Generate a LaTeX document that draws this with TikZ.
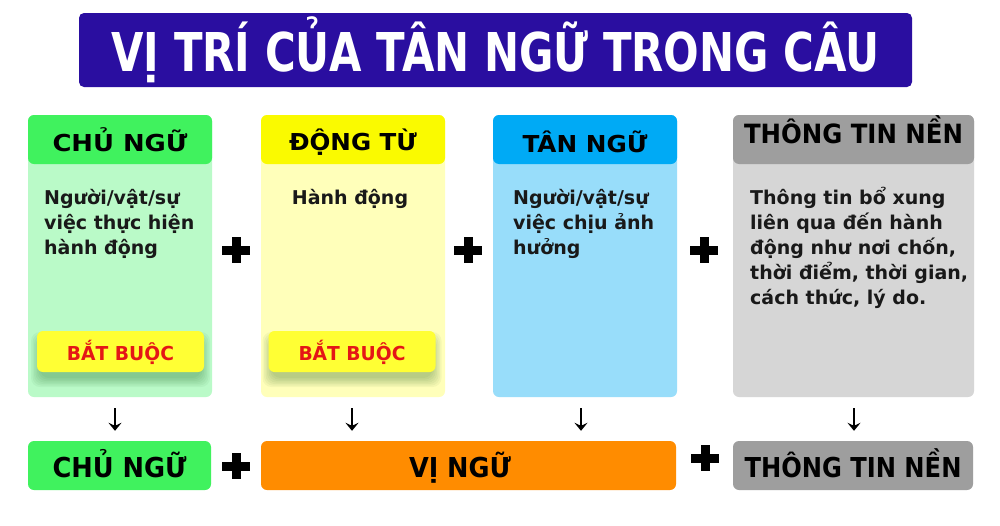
\documentclass[tikz,border=0pt]{standalone}
\usepackage{fontspec}
\setmainfont{DejaVu Sans}
\usepackage{graphicx}
\usetikzlibrary{arrows.meta}
\definecolor{titlebg}{RGB}{42,14,160}
\definecolor{ghead}{RGB}{64,242,94}
\definecolor{gbody}{RGB}{186,250,200}
\definecolor{yhead}{RGB}{250,250,0}
\definecolor{ybody}{RGB}{255,255,186}
\definecolor{bhead}{RGB}{0,170,245}
\definecolor{bbody}{RGB}{152,221,250}
\definecolor{khead}{RGB}{158,158,158}
\definecolor{kbody}{RGB}{214,214,214}
\definecolor{orng}{RGB}{255,140,0}
\definecolor{badgey}{RGB}{255,255,52}
\definecolor{badger}{RGB}{228,22,22}
\newcommand\fitw[3]{\resizebox{#1}{\height}{\fontsize{#2}{#2}\selectfont #3}}
\begin{document}
\begin{tikzpicture}[x=1pt,y=-1pt,
  colbox/.style={rounded corners=6pt, inner sep=0pt, minimum height=282pt},
  hdr/.style={rounded corners=6pt, inner sep=0pt, minimum height=49pt, text=black, font=\bfseries},
  btext/.style={inner sep=0pt, align=left, font=\bfseries\fontsize{19}{25}\selectfont, text=black!90},
  badge/.style={fill=badgey, rounded corners=6pt, inner sep=0pt, minimum width=167pt, minimum height=41pt,
    text height=17pt, text depth=0pt, text=badger, font=\bfseries},
  softshadow/.style={fill=black!70!green, fill opacity=0.045, rounded corners=9pt},
  arr/.style={line width=1.7pt, -{Stealth[length=8pt,width=13pt,inset=3pt]}, shorten <=11pt, shorten >=10pt},
  plus/.pic={\fill[black] (-14,-4.5) rectangle (14,4.5); \fill[black] (-4.5,-13) rectangle (4.5,13);}
]
\useasboundingbox[fill=white] (0,0) rectangle (1000,525);

% title
\node[fill=titlebg, rounded corners=5pt, minimum width=833pt, minimum height=74pt, inner sep=0pt,
  text=white, font=\bfseries, text height=42pt, text depth=0pt] (title) at (495.5,50)
  {\fitw{768pt}{53.5}{VỊ TRÍ CỦA TÂN NGỮ TRONG CÂU}};

% columns
\node[colbox, fill=gbody, minimum width=184pt] (c1) at (120,256) {};
\node[colbox, fill=ybody, minimum width=184pt] (c2) at (353,256) {};
\node[colbox, fill=bbody, minimum width=184pt] (c3) at (585,256) {};
\node[colbox, fill=kbody, minimum width=241pt] (c4) at (853.5,256) {};

\node[hdr, fill=ghead, minimum width=184pt, text height=23pt, text depth=0pt] (h1) at (120,139.5) {\fitw{135pt}{23.3}{CHỦ NGỮ}};
\node[hdr, fill=yhead, minimum width=184pt, text height=21pt, text depth=0pt] (h2) at (353,139.5) {\fitw{128pt}{23.3}{ĐỘNG TỪ}};
\node[hdr, fill=bhead, minimum width=184pt, text height=25pt, text depth=0pt] (h3) at (585,139.5) {\fitw{125pt}{23.3}{TÂN NGỮ}};
\node[hdr, fill=khead, minimum width=241pt, text height=14pt, text depth=7pt] (h4) at (853.5,139.5) {\fitw{219pt}{26.5}{THÔNG TIN NỀN}};

% body texts (base anchor = baseline of the last line)
\node[btext, anchor=base west] (t1) at (44,254) {Người/vật/sự\\việc thực hiện\\hành động};
\node[btext, anchor=base] (t2) at (350,204) {Hành động};
\node[btext, anchor=base west] (t3) at (513,254) {Người/vật/sự\\việc chịu ảnh\\hưởng};
\node[btext, anchor=base west] (t4) at (750,304) {Thông tin bổ xung\\liên qua đến hành\\động như nơi chốn,\\thời điểm, thời gian,\\cách thức, lý do.};

% soft shadows under the badges
\foreach \cx in {120.5,352}{
  \foreach \g in {0,1.5,...,9}{
    \fill[softshadow] (\cx-83.5-\g+3,337-\g+4) rectangle (\cx+83.5+\g-3,378+\g);
  }
}
\node[badge] (bb1) at (120.5,351.5) {\fitw{107pt}{19.2}{BẮT BUỘC}};
\node[badge] (bb2) at (352,351.5) {\fitw{107pt}{19.2}{BẮT BUỘC}};

% plus signs
\pic at (236,250) {plus};
\pic at (468,250) {plus};
\pic at (704,250) {plus};
\pic at (236,466) {plus};
\pic at (705,458) {plus};

% bottom row
\node[hdr, fill=ghead, minimum width=183pt, text height=23pt, text depth=0pt] (b1) at (119.5,465.5) {\fitw{134pt}{27.4}{CHỦ NGỮ}};
\node[hdr, fill=orng, minimum width=415pt, text height=23pt, text depth=0pt] (b2) at (468.5,465.5) {\fitw{102pt}{27.4}{VỊ NGỮ}\hspace*{17pt}};
\node[hdr, fill=khead, minimum width=240pt, text height=23pt, text depth=0pt] (b3) at (853,465.5) {\fitw{217pt}{27.4}{THÔNG TIN NỀN}};

% arrows
\draw[arr] ([xshift=-5pt]c1.south) -- ([xshift=-4.5pt]b1.north);
\draw[arr] ([xshift=-1pt]c2.south) -- ([xshift=-1pt]c2.south |- b2.north);
\draw[arr] ([xshift=-4pt]c3.south) -- ([xshift=-4pt]c3.south |- b2.north);
\draw[arr] ([xshift=0.5pt]c4.south) -- ([xshift=1pt]b3.north);
\end{tikzpicture}
\end{document}
